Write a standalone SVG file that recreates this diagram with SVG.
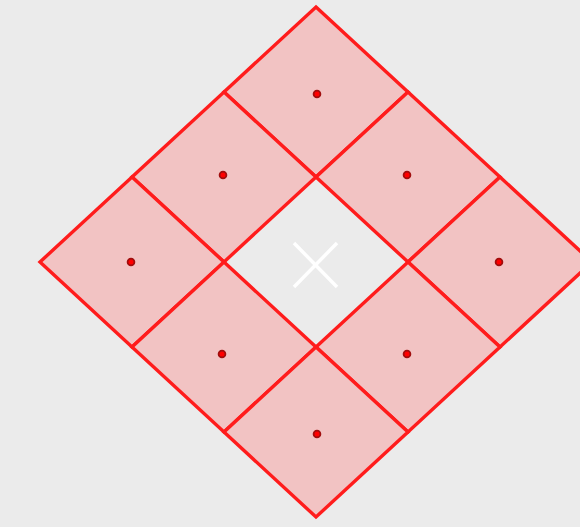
<svg xmlns="http://www.w3.org/2000/svg" width="580" height="527" viewBox="0 0 580 527">
  <style>
    .cell { fill: #f2c3c3; stroke: #ff1c1c; stroke-width: 3.4; stroke-linejoin: miter; }
    .dot { fill: #ff0000; stroke: #a00d0d; stroke-width: 1.8; }
    .x { stroke: #ffffff; stroke-width: 3.5; stroke-linecap: butt; }
  </style>
  <rect x="0" y="0" width="580" height="527" fill="#ebebeb"/>
  <g id="cells">
    <g id="cell-0-0">
      <polygon class="cell" points="316,7 408,92 316,177 224,92"/>
      <circle class="dot" cx="317" cy="94" r="3.4"/>
    </g>
    <g id="cell-1-0">
      <polygon class="cell" points="408,92 500,177 408,262 316,177"/>
      <circle class="dot" cx="407" cy="175" r="3.4"/>
    </g>
    <g id="cell-2-0">
      <polygon class="cell" points="500,177 592,262 500,347 408,262"/>
      <circle class="dot" cx="499" cy="262" r="3.4"/>
    </g>
    <g id="cell-0-1">
      <polygon class="cell" points="224,92 316,177 224,262 132,177"/>
      <circle class="dot" cx="223" cy="175" r="3.4"/>
    </g>
    <g id="cell-0-2">
      <polygon class="cell" points="132,177 224,262 132,347 40,262"/>
      <circle class="dot" cx="131" cy="262" r="3.4"/>
    </g>
    <g id="cell-2-1">
      <polygon class="cell" points="408,262 500,347 408,432 316,347"/>
      <circle class="dot" cx="407" cy="354" r="3.4"/>
    </g>
    <g id="cell-1-2">
      <polygon class="cell" points="224,262 316,347 224,432 132,347"/>
      <circle class="dot" cx="222" cy="354" r="3.4"/>
    </g>
    <g id="cell-2-2">
      <polygon class="cell" points="316,347 408,432 316,517 224,432"/>
      <circle class="dot" cx="317" cy="434" r="3.4"/>
    </g>
  </g>
  <g id="center-mark">
    <line class="x" x1="294" y1="243" x2="337" y2="287"/>
    <line class="x" x1="337" y1="243" x2="294" y2="287"/>
  </g>
  <g id="connectors"/>
</svg>
